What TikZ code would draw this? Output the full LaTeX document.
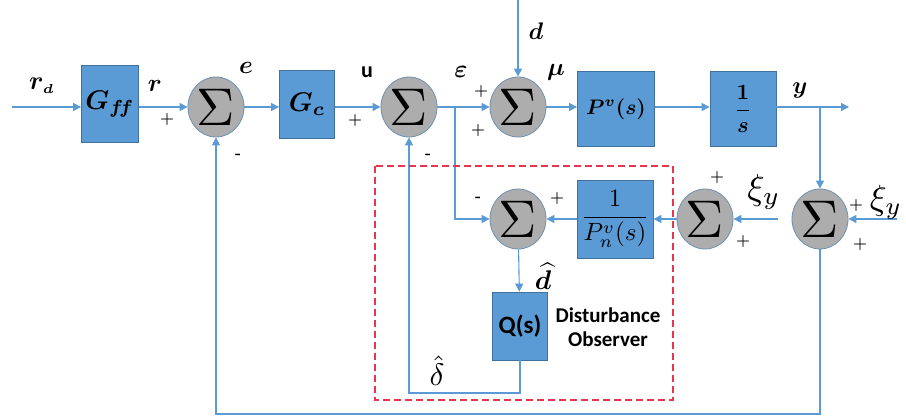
\documentclass[tikz,border=0pt]{standalone}
\usepackage{amsmath,bm}
\usepackage{graphicx}
\usepackage{fontspec}
\newfontfamily\carlito{Carlito}
\usetikzlibrary{arrows.meta,shapes.geometric}
\definecolor{boxf}{HTML}{5B9BD5}
\definecolor{boxb}{HTML}{41719C}
\definecolor{sumf}{HTML}{ADADAD}
\definecolor{sumb}{HTML}{6F8FAF}
\definecolor{linec}{HTML}{5B9BD5}
\definecolor{dobred}{HTML}{E8354F}
\newcommand{\mysz}[2]{\scalebox{#1}{#2}}
\newcommand{\sig}{\mysz{5.3}{$\Sigma$}}
\tikzset{
  blk/.style={draw=boxb, fill=boxf, line width=0.8pt, inner sep=0pt},
  sumn/.style={ellipse, draw=sumb, fill=sumf, line width=0.8pt, minimum width=56pt, minimum height=60pt, inner sep=0pt},
  arr/.style={draw=linec, line width=1.1pt, -{Triangle[width=8pt,length=8pt]}},
  lbl/.style={inner sep=0pt},
  sgn/.style={font=\fontsize{16}{16}\selectfont\bfseries, inner sep=0pt},
  dob/.style={draw=dobred, line width=1.4pt, dash pattern=on 7pt off 4pt}
}
\begin{document}
\begin{tikzpicture}[x=1pt,y=-1pt]
\useasboundingbox (0,0) rectangle (906,420);
% blocks
\node[blk, minimum width=57pt, minimum height=77pt] (Gff) at (110,104) {\mysz{2.7}{$\bm{G_{f\!f}}$}};
\node[sumn] (S1) at (216,107) {\sig};
\node[blk, minimum width=55pt, minimum height=68pt] (Gc) at (307,104) {\mysz{2.7}{$\bm{G_c}$}};
\node[sumn] (S2) at (409,107) {\sig};
\node[sumn] (S3) at (518,107) {\sig};
\node[blk, minimum width=77pt, minimum height=75pt] (P) at (616,109) {\mysz{2.1}{$\bm{P^v(s)}$}};
\node[blk, minimum width=66pt, minimum height=75pt] (Int) at (743,109) {\mysz{2.2}{$\displaystyle\bm{\frac{1}{s}}$}};
\node[sumn] (SR) at (820,219) {\sig};
\node[sumn] (SL) at (705,219) {\sig};
\node[blk, minimum width=76pt, minimum height=78pt] (Pn) at (615,219) {\mysz{2.5}{$\displaystyle\frac{1}{P_n^v(s)}$}};
\node[sumn] (SD) at (518,219) {\sig};
\node[blk, minimum width=55pt, minimum height=68pt, font=\fontsize{25}{25}\selectfont\carlito\bfseries] (Q) at (520,326) {Q(s)};
% free ends
\coordinate (rin) at (12,107);
\coordinate (yout) at (849,107);
\coordinate (dtop) at (518,0);
\coordinate (xiR) at (897,219);
\coordinate (xiL) at (778,219);
\coordinate (je) at (455,107);
\coordinate (jy) at (820,107);
% connectors
\draw[arr] (rin) -- (Gff.west |- rin);
\draw[arr] (Gff.east |- S1) -- (S1);
\draw[arr] (S1) -- (Gc.west |- S1);
\draw[arr] (Gc.east |- S2) -- (S2);
\draw[arr] (S2) -- (S3);
\draw[arr] (S3) -- (P.west |- S3);
\draw[arr] (P.east |- S3) -- (Int.west |- S3);
\draw[arr] (Int.east |- S3) -- (yout);
\draw[arr] (jy) -- (SR);
\draw[arr] (dtop) -- (S3);
\draw[arr] (xiR) -- (SR);
\draw[arr] (xiL) -- (SL);
\draw[arr] (SL) -- (Pn);
\draw[arr] (Pn) -- (SD);
\draw[arr] (je) |- (SD);
\draw[arr] (SD) -- (Q);
\draw[arr] (Q.south) |- (435,393) -| (S2.south);
\draw[arr] (SR.south) |- (500,414) -| (S1.south);
% DOB frame
\draw[dob] (375,166) rectangle (673,400);
% labels
\node[lbl] (lrd) at (42,86) {\mysz{2.6}{$\bm{r_{\scriptscriptstyle d}}$}};
\node[lbl] (lr) at (155,86) {\mysz{2.5}{$\bm{r}$}};
\node[sgn] (p1) at (167,120) {+};
\node[lbl] (le) at (246,68) {\mysz{2.5}{$\bm{e}$}};
\node[sgn] (m1) at (238,156) {-};
\node[lbl, font=\fontsize{22}{22}\selectfont\carlito\bfseries] (lu) at (367,72) {u};
\node[sgn] (p2) at (355,121) {+};
\node[sgn] (m2) at (428,156) {-};
\node[lbl] (leps) at (461,72) {\mysz{2.5}{$\bm{\varepsilon}$}};
\node[sgn] (p3) at (481,92) {+};
\node[sgn] (p4) at (478,131) {+};
\node[lbl] (ld) at (536,31) {\mysz{2.4}{$\bm{d}$}};
\node[lbl] (lmu) at (556,72) {\mysz{2.5}{$\bm{\mu}$}};
\node[lbl] (ly) at (800,91) {\mysz{2.4}{$\bm{y}$}};
\node[lbl] (lxiR) at (886,202) {\mysz{3.5}{$\xi_y$}};
\node[sgn] (p5) at (856,206) {+};
\node[sgn] (p6) at (860,245) {+};
\node[lbl] (lxiL) at (764,192) {\mysz{3.6}{$\xi_y$}};
\node[sgn] (p7) at (717,178) {+};
\node[sgn] (p8) at (743,242) {+};
\node[sgn] (m3) at (478,199) {-};
\node[sgn] (p9) at (557,199) {+};
\node[lbl] (ldh) at (543,276) {\mysz{2.7}{$\bm{\widehat{d}}$}};
\node[lbl] (ldel) at (437,371) {\mysz{3.1}{$\hat{\delta}$}};
\node[font=\fontsize{21}{24}\selectfont\carlito\bfseries, align=center, inner sep=0pt] (dobt) at (608,327) {Disturbance\\Observer};
\end{tikzpicture}
\end{document}
